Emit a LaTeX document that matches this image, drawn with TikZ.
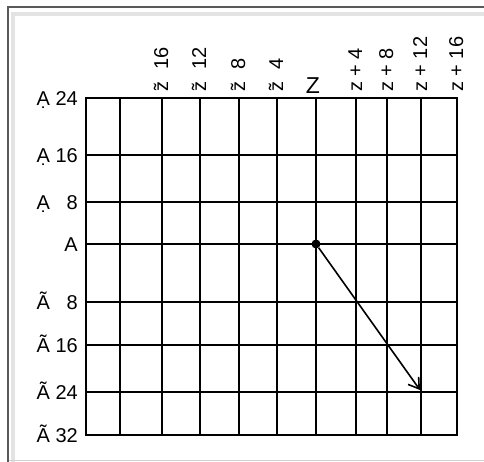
\documentclass[tikz,border=0pt]{standalone}
\usepackage{fontspec}
\setmainfont{Liberation Sans}
\usetikzlibrary{arrows.meta}
\tikzset{
  gridline/.style={line width=1.8pt, line cap=rect},
  rowlabel/.style={anchor=base east, inner sep=0pt, font=\fontsize{20}{24}\selectfont},
  collabel/.style={anchor=base west, rotate=90, inner sep=0pt, font=\fontsize{20}{24}\selectfont},
}
\begin{document}
\begin{tikzpicture}[x=1pt,y=-1pt]
  \useasboundingbox (0,0) rectangle (484,462);
  % Frame
  \draw [gray!22, line width=4pt] (13,462) -- (13,14) -- (484,14);
  \draw [gray!35, line width=1pt] (8,460.5) -- (484,460.5);
  \draw [black!65, line width=1.5pt] (8,462) -- (8,7) -- (484,7);
  % Grid
  \foreach \x in {86,120,162,200,239,277,316,356,387,421,457}
    \draw [gridline] (\x,98) -- (\x,435);
  \foreach \y in {98,155,202,244,302,345,392,435}
    \draw [gridline] (86,\y) -- (457,\y);
  % Row labels
  \foreach \y/\t/\n in {98/Ạ 24/ra24, 155/Ạ 16/ra16, 202/Ạ \phantom{1}8/ra8, 244/A/ra0,
                        302/Ã \phantom{1}8/rb8, 345/Ã 16/rb16, 392/Ã 24/rb24, 435/Ã 32/rb32}
    \node [rowlabel] (\n) at (78,\y+7.5) {\t};
  % Column labels
  \foreach \x/\t/\n in {162/16/ca16, 200/12/ca12, 239/8/ca8, 277/4/ca4}
    \node [collabel] (\n) at (\x+6,92) {\~{z}\hspace{0.6em}\t};
  \foreach \x/\t/\n in {356/4/cb4, 387/8/cb8, 421/12/cb12, 457/16/cb16}
    \node [collabel] (\n) at (\x+6,92) {z + \t};
  \node [anchor=base, inner sep=0pt, font=\fontsize{23}{26}\selectfont] (zmid) at (313,94) {Z};
  % Move
  \node [circle, fill, inner sep=0pt, minimum size=9pt] (start) at (316,244) {};
  \coordinate (goal) at (420,390);
  \draw [line width=1.6pt, -{Straight Barb[length=10pt,width=13pt]}] (start) -- (goal);
\end{tikzpicture}
\end{document}
